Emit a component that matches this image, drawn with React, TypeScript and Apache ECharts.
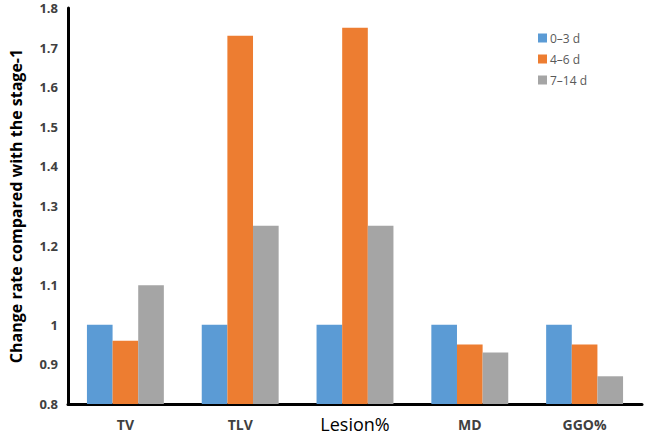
import React, { useEffect, useRef } from "react";
import * as echarts from "echarts";

const categories = ["TV", "TLV", "Lesion%", "MD", "GGO%"];
const seriesNames = ["0–3 d", "4–6 d", "7–14 d"];
const stage03 = [1, 1, 1, 1, 1];
const stage46 = [0.96, 1.73, 1.75, 0.95, 0.95];
const stage714 = [1.1, 1.25, 1.25, 0.93, 0.87];
const colors = ["#5B9BD5", "#ED7D31", "#A5A5A5"];
const yTicks = { min: 0.8, max: 1.8, interval: 0.1 };

export default function App() {
  const ref = useRef<HTMLDivElement>(null);
  useEffect(() => {
    if (!ref.current) return;
    const chart = echarts.init(ref.current, null, { renderer: "svg" });
    const data = [stage03, stage46, stage714];
    chart.setOption({
      animation: false,
      backgroundColor: "#ffffff",
      textStyle: { fontFamily: "Open Sans" },
      grid: { left: 57, right: 4, top: 8, bottom: 37, containLabel: false },
      legend: {
        orient: "vertical",
        left: 533,
        top: 27,
        itemWidth: 9,
        itemHeight: 9,
        itemGap: 9,
        icon: "rect",
        textStyle: { fontSize: 12, color: "#595959", fontFamily: "Open Sans", padding: [0, 0, 0, -2] },
        data: seriesNames,
      },
      xAxis: {
        type: "category",
        data: categories,
        axisLine: { lineStyle: { color: "#000", width: 3 } },
        axisTick: { show: false },
        axisLabel: {
          margin: 10,
          formatter: (v: string) => (v === "Lesion%" ? "{big|" + v + "}" : "{n|" + v + "}"),
          rich: {
            n: { fontSize: 14, fontWeight: "bold", color: "#404040", fontFamily: "Open Sans", lineHeight: 20 },
            big: { fontSize: 18, fontWeight: 500, color: "#000", fontFamily: "Open Sans", lineHeight: 20 },
          },
        },
      },
      yAxis: {
        type: "value",
        min: yTicks.min,
        max: yTicks.max,
        interval: yTicks.interval,
        name: "Change rate compared with the stage-1",
        nameLocation: "middle",
        nameGap: 44,
        nameTextStyle: { fontSize: 16, fontWeight: "bold", color: "#000", fontFamily: "Open Sans" },
        axisLine: { show: true, lineStyle: { color: "#000", width: 3 } },
        axisTick: { show: false },
        splitLine: { show: false },
        axisLabel: {
          margin: 10,
          fontSize: 13,
          fontWeight: "bold",
          color: "#404040",
          fontFamily: "Open Sans",
          formatter: (v: number) => String(Math.round(v * 10) / 10),
        },
      },
      series: seriesNames.map((name, i) => ({
        name,
        type: "bar",
        data: data[i],
        barGap: "0%",
        barCategoryGap: "33%",
        itemStyle: { color: colors[i] },
      })),
    });
    return () => chart.dispose();
  }, []);
  return <div ref={ref} style={{ width: 646, height: 441, position: "absolute", left: 0, top: 0 }} />;
}
